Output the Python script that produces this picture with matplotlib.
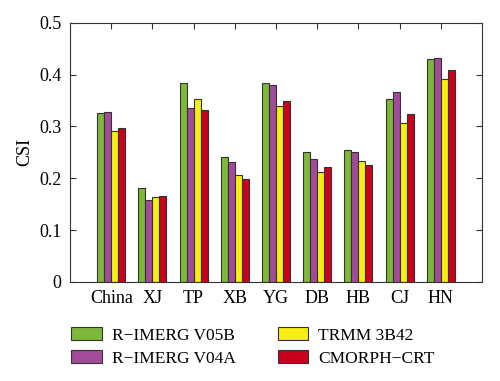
import matplotlib.pyplot as plt
import numpy as np

plt.rcParams['font.family'] = ['Liberation Serif', 'DejaVu Serif']

regions = ['China', 'XJ', 'TP', 'XB', 'YG', 'DB', 'HB', 'CJ', 'HN']
imerg_v05b = [0.327, 0.182, 0.383, 0.241, 0.384, 0.250, 0.254, 0.354, 0.430]
imerg_v04a = [0.328, 0.159, 0.336, 0.231, 0.380, 0.238, 0.250, 0.367, 0.432]
trmm_3b42 = [0.291, 0.163, 0.354, 0.207, 0.340, 0.212, 0.234, 0.306, 0.392]
cmorph_crt = [0.297, 0.165, 0.331, 0.199, 0.349, 0.221, 0.226, 0.325, 0.409]

series = [('R\u2212IMERG V05B', imerg_v05b, '#7db83a'),
          ('R\u2212IMERG V04A', imerg_v04a, '#a34b9b'),
          ('TRMM 3B42', trmm_3b42, '#f7ee13'),
          ('CMORPH\u2212CRT', cmorph_crt, '#c8001c')]

fig = plt.figure(figsize=(5, 3.81), dpi=100)
ax = fig.add_axes([0.14, 0.26, 0.824, 0.68])

x = np.arange(1, len(regions) + 1)
w = 0.17
for i, (name, vals, col) in enumerate(series):
    ax.bar(x + (i - 1.5) * w, vals, w, color=col, edgecolor='#333333',
           linewidth=0.8, label=name)

ax.set_xlim(0, 10)
ax.set_ylim(0, 0.5)
ax.set_xticks(x)
ax.set_xticklabels(regions)
ax.set_yticks(np.arange(0, 0.51, 0.1))
ax.set_yticklabels(['0', '0.1', '0.2', '0.3', '0.4', '0.5'])
ax.tick_params(direction='in', top=True, right=True, labelsize=13, length=4,
               color='#333333', pad=6)
for s in ax.spines.values():
    s.set_color('#333333')
ax.set_ylabel('CSI', fontsize=13)

ax.legend(loc='upper left', bbox_to_anchor=(-0.035, -0.115), ncol=2, frameon=False,
          fontsize=12.5, handlelength=1.75, handleheight=0.7, columnspacing=2.4,
          labelspacing=0.4, handletextpad=0.6)

fig.savefig('out.png', dpi=100)
